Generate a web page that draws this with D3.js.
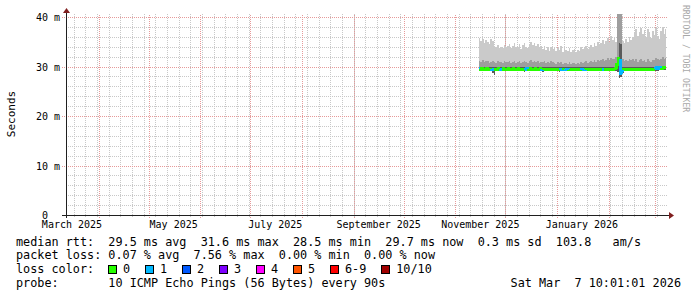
<!DOCTYPE html>
<html>
<head>
<meta charset="utf-8">
<script src="https://cdn.jsdelivr.net/npm/d3@7"></script>
<style>
  body { margin: 0; background: #fff; }
  svg text { font-family: "DejaVu Sans Mono", monospace; white-space: pre; }
</style>
</head>
<body>
<div id="container"></div>
<script>
// Time range of the graph (360 days ending at the graph time)
const endTime = new Date(2026, 2, 7, 10, 1, 1);
const startTime = d3.timeDay.offset(endTime, -360);
const dataStart = new Date(2025, 10, 15); // first day with samples

// Daily values in ms, one per day from dataStart
const smokeMax = [35.8,35.2,35.6,34.8,35.4,35.0,34.6,35.5,35.2,
  34.2,33.9,34.3,33.7,34.0,33.8,34.4,33.9,34.1,
  34.6,33.8,34.2,34.7,33.9,34.0,34.5,33.6,34.3,34.8,34.0,33.7,34.4,
  35.0,34.3,34.8,34.1,34.6,33.9,34.2,
  33.6,34.1,33.4,33.9,33.2,34.0,33.5,33.8,33.1,33.7,33.3,34.2,33.0,33.6,33.4,33.1,33.8,32.9,33.3,33.6,33.0,
  33.4,33.2,33.9,33.5,33.8,34.1,33.6,34.0,
  34.4,34.0,34.7,34.2,35.0,34.5,34.8,35.3,34.6,
  35.2,35.8,35.0,36.1,35.4,35.7,35.0,
  41,41,41,
  35.2,34.8,35.6,35.0,35.9,35.3,36.0,
  36.8,37.5,36.2,37.0,37.8,36.5,37.3,36.0,37.6,36.9,35.8,37.2,36.4,37.7,36.1,35.6,
  37.2,38.0,36.6,37.5];
const smokeMid = [31.2,31.0,31.3,30.9,31.1,31.2,30.8,31.0,31.1,
  31.0,30.8,31.1,30.9,31.0,30.7,31.2,30.9,31.0,
  31.1,30.8,30.9,31.2,30.8,31.0,31.1,30.7,30.9,31.2,31.0,30.8,31.1,
  31.3,31.0,31.2,30.9,31.1,30.8,31.0,
  30.9,31.1,30.8,31.0,30.7,31.1,30.9,30.8,30.6,30.9,30.7,31.0,30.6,30.8,30.7,30.6,30.9,30.5,30.7,30.8,30.6,
  30.7,30.6,30.9,30.8,31.0,31.1,30.8,31.0,
  31.2,30.9,31.3,31.0,31.4,31.1,31.3,31.5,31.2,
  31.4,31.7,31.3,31.8,31.5,31.6,31.9,
  41,41,41,
  31.6,31.2,31.4,31.1,31.5,31.3,31.6,
  31.2,31.5,31.0,31.3,31.6,31.1,31.4,31.0,31.5,31.2,30.9,31.3,31.4,31.8,31.5,31.3,
  31.6,31.9,31.5,31.7];
const coreTop = [29.9,29.9,30.0,29.9,29.9,30.0,29.9,29.9,29.8,
  29.8,29.9,29.9,30.0,29.9,29.9,30.0,29.9,29.9,
  30.0,29.9,29.9,30.0,29.9,29.9,30.0,29.9,29.9,29.8,29.9,30.0,29.9,
  30.0,29.9,29.9,30.0,29.9,29.9,30.0,
  29.8,29.9,29.9,29.8,29.9,29.9,29.8,29.9,29.9,29.8,29.8,29.9,29.8,29.9,29.8,29.8,29.9,29.8,29.8,29.9,29.8,
  29.8,29.9,29.8,29.9,29.9,29.8,29.9,29.9,
  29.9,29.9,29.8,29.9,29.9,29.8,29.9,29.9,29.9,
  29.9,29.8,29.9,29.9,29.8,29.9,30.0,
  31.2,34.7,34.5,
  29.8,29.9,29.8,29.9,29.8,29.9,29.9,
  29.9,29.8,29.9,29.9,29.8,29.9,29.9,29.8,29.9,29.9,29.8,29.9,29.9,30.1,30.2,30.1,
  30.2,30.1,30.2,30.2];
const smokeMin = [29.0,29.1,29.0,29.1,29.0,29.1,29.0,29.0,28.6,
  28.2,29.0,29.1,29.0,29.0,29.1,29.0,29.1,29.0,
  29.1,29.0,29.0,29.1,29.0,29.0,29.1,29.0,29.0,28.8,29.0,29.1,29.0,
  29.0,29.1,29.0,29.0,29.1,29.0,29.0,
  28.9,29.0,29.1,29.0,29.0,29.1,29.0,29.0,29.1,29.0,28.9,29.0,29.0,29.1,29.0,29.0,29.1,29.0,29.0,29.1,29.0,
  29.0,29.1,29.0,29.0,29.1,29.0,29.0,29.1,
  29.0,29.0,29.1,29.0,29.0,29.1,29.0,29.0,29.1,
  29.0,29.1,29.0,29.0,29.1,29.0,29.0,
  28.9,27.6,27.8,
  28.6,29.0,29.1,29.0,29.0,29.1,29.0,
  29.0,29.1,29.0,29.0,29.1,29.0,29.0,29.1,29.0,29.0,29.1,29.0,29.0,29.1,29.0,29.2,
  29.2,29.3,29.2,29.3];
const median = [29.5,29.4,29.5,29.4,29.4,29.5,29.4,29.4,29.3,
  29.3,29.4,29.4,29.5,29.4,29.4,29.5,29.4,29.4,
  29.5,29.4,29.4,29.5,29.4,29.4,29.5,29.4,29.4,29.3,29.4,29.5,29.4,
  29.5,29.4,29.4,29.5,29.4,29.4,29.5,
  29.3,29.4,29.4,29.3,29.4,29.4,29.3,29.4,29.4,29.3,29.3,29.4,29.3,29.4,29.3,29.3,29.4,29.3,29.3,29.4,29.3,
  29.3,29.4,29.3,29.4,29.4,29.3,29.4,29.4,
  29.4,29.4,29.3,29.4,29.4,29.3,29.4,29.4,29.4,
  29.4,29.3,29.4,29.4,29.3,29.4,29.5,
  30.4,31.6,28.5,
  29.2,29.4,29.3,29.4,29.3,29.4,29.4,
  29.4,29.3,29.4,29.4,29.3,29.4,29.4,29.3,29.4,29.4,29.3,29.4,29.4,29.6,29.7,29.6,
  29.7,29.6,29.7,29.7];
// lost pings out of 10, per day
const loss = [1,0,0,0,0,0,0,0,1,
  0,0,0,0,1,0,0,0,0,
  0,0,0,0,0,0,0,0,0,0,1,1,0,
  0,0,0,0,0,0,0,
  1,0,0,0,0,0,0,0,0,0,0,1,1,0,1,0,1,0,0,0,0,
  0,0,0,1,0,1,0,0,
  0,0,0,0,0,0,0,1,0,
  0,0,0,0,0,0,0,
  0,0,1,
  1,0,0,0,0,0,0,
  0,0,0,0,0,0,0,0,0,0,0,0,0,1,1,1,
  1,0,0,0];

const yTicks = [0, 10, 20, 30, 40];
const yTickLabels = ["0  ", "10 m", "20 m", "30 m", "40 m"];
const lossLabels = ["0", "1", "2", "3", "4", "5", "6-9", "10/10"];
const lossColors = ["#26ff00", "#00b8ff", "#0059ff", "#7e00ff", "#ff00ff", "#ff5500", "#ff0000", "#a10000"];
const legendLines = [
  "median rtt:  29.5 ms avg  31.6 ms max  28.5 ms min  29.7 ms now  0.3 ms sd  103.8   am/s",
  "packet loss: 0.07 % avg  7.56 % max  0.00 % min  0.00 % now",
  "loss color:",
  "probe:       10 ICMP Echo Pings (56 Bytes) every 90s"
];
const dateStamp = "Sat Mar  7 10:01:01 2026";

// Build rows
const rows = smokeMax.map((v, i) => ({
  t: d3.timeDay.offset(dataStart, i),
  max: v, mid: smokeMid[i], core: coreTop[i], min: smokeMin[i],
  med: median[i], loss: loss[i]
}));
const rowsEnd = rows.concat([Object.assign({}, rows[rows.length - 1], { t: endTime })]);

const width = 697, height = 297;
const plotLeft = 66, plotRight = 666, plotTop = 14, plotBottom = 215;

const svg = d3.select("div#container").append("svg")
  .attr("width", width).attr("height", height)
  .style("display", "block");
svg.append("rect").attr("width", width).attr("height", height).attr("fill", "#fff");

const x = d3.scaleTime().domain([startTime, endTime]).range([plotLeft, plotRight]);
const y = d3.scaleLinear().domain([0, 40]).range([plotBottom, 17]);

// Grid
const grid = svg.append("g").attr("shape-rendering", "crispEdges");
const mondays = d3.timeMonday.range(startTime, endTime);
grid.selectAll("line.vmin").data(mondays).enter().append("line")
  .attr("x1", (d) => Math.round(x(d)) + 0.5).attr("x2", (d) => Math.round(x(d)) + 0.5)
  .attr("y1", plotBottom + 2).attr("y2", plotTop)
  .attr("stroke", "#c8c8c8").attr("stroke-dasharray", "1,1");
const yMinor = d3.range(2, 41, 2).filter((v) => v % 10 !== 0);
grid.selectAll("line.hmin").data(yMinor).enter().append("line")
  .attr("x1", plotLeft).attr("x2", plotRight + 2)
  .attr("y1", (d) => Math.round(y(d)) + 0.5).attr("y2", (d) => Math.round(y(d)) + 0.5)
  .attr("stroke", "#c8c8c8").attr("stroke-dasharray", "1,1");
const months = d3.timeMonth.range(startTime, endTime);
grid.selectAll("line.vmaj").data(months).enter().append("line")
  .attr("x1", (d) => Math.round(x(d)) + 0.5).attr("x2", (d) => Math.round(x(d)) + 0.5)
  .attr("y1", plotBottom + 3).attr("y2", plotTop)
  .attr("stroke", "#e69a9a").attr("stroke-dasharray", "1,1");
grid.selectAll("line.hmaj").data(yTicks.slice(1)).enter().append("line")
  .attr("x1", plotLeft - 4).attr("x2", plotRight + 2)
  .attr("y1", (d) => Math.round(y(d)) + 0.5).attr("y2", (d) => Math.round(y(d)) + 0.5)
  .attr("stroke", "#e69a9a").attr("stroke-dasharray", "1,1");

// Smoke
svg.append("clipPath").attr("id", "plot").append("rect")
  .attr("x", plotLeft).attr("y", plotTop).attr("width", plotRight - plotLeft).attr("height", plotBottom - plotTop);
const plot = svg.append("g").attr("clip-path", "url(#plot)").attr("shape-rendering", "crispEdges");
const band = (lo, hi) => d3.area().curve(d3.curveStepAfter)
  .x((d) => x(d.t)).y0((d) => y(d[lo])).y1((d) => y(d[hi]));
plot.append("path").datum(rowsEnd).attr("d", band("min", "max")).attr("fill", "#cacaca");
plot.append("path").datum(rowsEnd).attr("d", band("min", "mid")).attr("fill", "#9e9e9e");
plot.append("path").datum(rowsEnd).attr("d", band("min", "core")).attr("fill", "#5a5a5a");

// Median line coloured by loss
const lossIndex = (l) => (l <= 5 ? l : l < 10 ? 6 : 7);
plot.selectAll("path.med").data(rows).enter().append("path")
  .attr("d", (d, i) => {
    const x0 = x(d.t), x1 = x(i + 1 < rows.length ? rows[i + 1].t : endTime);
    const yp = y(i > 0 ? rows[i - 1].med : d.med);
    return `M${x0},${yp}V${y(d.med)}H${x1}`;
  })
  .attr("fill", "none")
  .attr("stroke", (d) => lossColors[lossIndex(d.loss)])
  .attr("stroke-width", 3);

// Axes
const axisColor = "#1f1f1f", arrowColor = "#801f1f";
svg.append("line").attr("x1", plotLeft - 4).attr("x2", plotRight + 4)
  .attr("y1", plotBottom + 0.5).attr("y2", plotBottom + 0.5).attr("stroke", axisColor)
  .attr("shape-rendering", "crispEdges");
svg.append("line").attr("x1", plotLeft + 0.5).attr("x2", plotLeft + 0.5)
  .attr("y1", plotBottom + 3).attr("y2", plotTop - 2).attr("stroke", axisColor)
  .attr("shape-rendering", "crispEdges");
svg.append("path").attr("d", `M${plotRight + 3},${plotBottom - 3}L${plotRight + 8},${plotBottom + 0.5}L${plotRight + 3},${plotBottom + 4}Z`)
  .attr("fill", arrowColor);
svg.append("path").attr("d", `M${plotLeft - 3},${plotTop - 1}L${plotLeft + 0.5},${plotTop - 6}L${plotLeft + 4},${plotTop - 1}Z`)
  .attr("fill", arrowColor);

// Y labels
svg.selectAll("text.ylab").data(yTicks).enter().append("text")
  .attr("x", 60).attr("y", (d) => y(d) + 4)
  .attr("text-anchor", "end").attr("font-size", "10px").attr("fill", "#000")
  .text((d, i) => yTickLabels[i]);

// X labels, centred half a month after each labelled month start
const labelMonths = d3.timeMonth.every(2).range(new Date(2025, 2, 1), endTime)
  .filter((d) => d3.timeDay.offset(d, 15) < endTime);
svg.selectAll("text.xlab").data(labelMonths).enter().append("text")
  .attr("x", (d) => x(d3.timeDay.offset(d, 15)))
  .attr("y", 228)
  .attr("text-anchor", "middle").attr("font-size", "10px").attr("fill", "#000")
  .text((d) => d3.timeFormat("%B %Y")(d));

// Axis title
svg.append("text").attr("transform", "translate(15,114) rotate(-90)")
  .attr("text-anchor", "middle").attr("font-size", "11px").attr("fill", "#000")
  .text("Seconds");

// Watermark
svg.append("text").attr("transform", "translate(683,5) rotate(90)")
  .attr("font-size", "8.1px").attr("fill", "#a8a8a8")
  .text("RRDTOOL / TOBI OETIKER");

// Legend
const lineY = (i) => 245.5 + i * 13.85;
svg.selectAll("text.leg").data(legendLines).enter().append("text")
  .attr("x", 16).attr("y", (d, i) => lineY(i))
  .attr("font-size", "11.8px").attr("fill", "#000")
  .text((d) => d);
svg.append("text").attr("x", 681).attr("y", lineY(3))
  .attr("text-anchor", "end").attr("font-size", "11.8px").attr("fill", "#000")
  .text(dateStamp);

let bx = 108;
lossLabels.forEach((lab, i) => {
  svg.append("rect").attr("x", bx + 0.5).attr("y", 265.5).attr("width", 8).attr("height", 8)
    .attr("fill", lossColors[i]).attr("stroke", "#000").attr("shape-rendering", "crispEdges");
  svg.append("text").attr("x", bx + 15).attr("y", lineY(2))
    .attr("font-size", "11.8px").attr("fill", "#000").text(lab);
  bx += 37 + 7.13 * (lab.length - 1);
});
</script>
</body>
</html>
